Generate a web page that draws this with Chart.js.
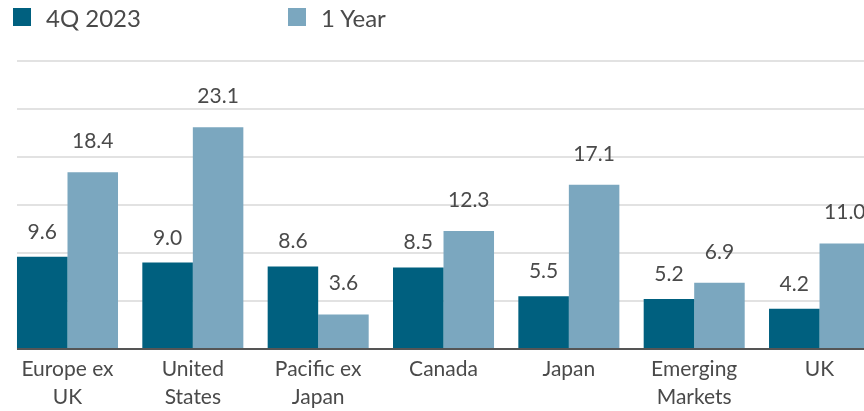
<!DOCTYPE html>
<html>
<head>
<meta charset="utf-8">
<script src="https://cdn.jsdelivr.net/npm/chart.js@4/dist/chart.umd.min.js"></script>
<style>
  html, body { margin: 0; padding: 0; background: #ffffff; overflow: hidden; width: 864px; height: 411px; }
  #wrap { position: relative; width: 864px; height: 411px; overflow: hidden; }
  canvas { position: absolute; left: 0; top: 0; }
  .leg { position: absolute; top: 0; height: 34px; display: flex; align-items: center; font-family: Lato, sans-serif; font-size: 24px; color: #4a4a4a; white-space: nowrap; }
  .leg .sw { width: 18px; height: 18px; margin-right: 15px; }
</style>
</head>
<body>
<div id="wrap">
  <canvas id="c" width="886" height="411"></canvas>
</div>
<script>
const categories = [
  ["Europe ex", "UK"],
  ["United", "States"],
  ["Pacific ex", "Japan"],
  ["Canada"],
  ["Japan"],
  ["Emerging", "Markets"],
  ["UK"]
];
const seriesNames = ["4Q 2023", "1 Year"];
const quarterValues = [9.6, 9.0, 8.6, 8.5, 5.5, 5.2, 4.2];
const yearValues = [18.4, 23.1, 3.6, 12.3, 17.1, 6.9, 11.0];
const seriesColors = ["#00607f", "#7ba7bf"];
const labelGaps = [18, 24];
const legendLeft = [13, 288];
const yMin = 0, yMax = 30, yStep = 5;

const textColor = "#4a4a4a";
const fontFamily = "Lato, sans-serif";

// HTML legend
const wrap = document.getElementById("wrap");
seriesNames.forEach((name, i) => {
  const d = document.createElement("div");
  d.className = "leg";
  d.style.left = legendLeft[i] + "px";
  d.innerHTML = '<span class="sw" style="background:' + seriesColors[i] + '"></span><span>' + name + '</span>';
  wrap.appendChild(d);
});

const gridPlugin = {
  id: "customGrid",
  beforeDatasetsDraw(chart) {
    const ctx = chart.ctx, y = chart.scales.y, area = chart.chartArea;
    const b0 = chart.getDatasetMeta(0).data[0];
    const x0 = b0.x - b0.width / 2;
    ctx.save();
    ctx.strokeStyle = "#e2e2e2";
    ctx.lineWidth = 2;
    y.ticks.forEach(t => {
      if (t.value === yMin) return;
      const py = Math.round(y.getPixelForValue(t.value));
      ctx.beginPath();
      ctx.moveTo(x0, py);
      ctx.lineTo(area.right, py);
      ctx.stroke();
    });
    ctx.restore();
  },
  afterDatasetsDraw(chart) {
    const ctx = chart.ctx, y = chart.scales.y, area = chart.chartArea;
    const b0 = chart.getDatasetMeta(0).data[0];
    const x0 = b0.x - b0.width / 2;
    ctx.save();
    ctx.strokeStyle = "#555555";
    ctx.lineWidth = 2;
    const py = Math.round(y.getPixelForValue(yMin));
    ctx.beginPath();
    ctx.moveTo(x0, py);
    ctx.lineTo(area.right, py);
    ctx.stroke();
    // data labels
    ctx.fillStyle = textColor;
    ctx.font = "21px " + fontFamily;
    ctx.textAlign = "center";
    ctx.textBaseline = "alphabetic";
    chart.data.datasets.forEach((ds, di) => {
      const meta = chart.getDatasetMeta(di);
      meta.data.forEach((bar, i) => {
        ctx.fillText(ds.data[i].toFixed(1), bar.x, bar.y - labelGaps[di]);
      });
    });
    ctx.restore();
  }
};

new Chart(document.getElementById("c"), {
  type: "bar",
  data: {
    labels: categories,
    datasets: [
      { label: seriesNames[0], data: quarterValues, backgroundColor: seriesColors[0] },
      { label: seriesNames[1], data: yearValues, backgroundColor: seriesColors[1] }
    ]
  },
  options: {
    responsive: false,
    animation: false,
    devicePixelRatio: 1,
    layout: { padding: { left: 4.83, right: 3.8, top: 61, bottom: 0 } },
    datasets: { bar: { categoryPercentage: 0.806, barPercentage: 1.0, borderWidth: 0 } },
    plugins: { legend: { display: false }, tooltip: { enabled: false }, title: { display: false } },
    scales: {
      x: {
        grid: { display: false, drawTicks: false },
        border: { display: false },
        ticks: {
          color: textColor,
          font: { family: fontFamily, size: 21, lineHeight: "28px" },
          padding: 6,
          maxRotation: 0,
          autoSkip: false
        },
        afterFit(scale) { scale.height = 62; }
      },
      y: {
        display: false,
        min: yMin,
        max: yMax,
        ticks: { stepSize: yStep }
      }
    }
  },
  plugins: [gridPlugin]
});
</script>
</body>
</html>
